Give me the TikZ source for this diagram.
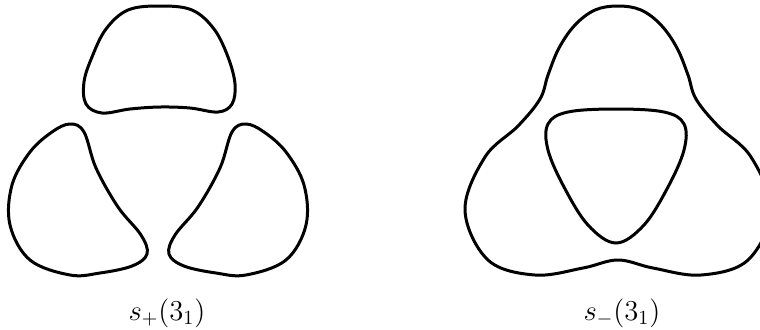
\documentclass[tikz,border=0pt]{standalone}
\begin{document}
\begin{tikzpicture}[x=0.5pt,y=-0.5pt,
  curve/.style={line width=1.5pt, line join=round},
  lbl/.style={anchor=base, inner sep=0pt, font=\fontsize{14.5}{16}\selectfont}]
\useasboundingbox (0,0) rectangle (760,329);
\clip (0,0) rectangle (760,329);
% ---------- left figure: s_+(3_1) ----------
% top blob
\draw[curve] plot[smooth cycle, tension=0.6] coordinates {
  (160,6) (192,10) (214,29) (228,57) (235,84) (232,104) (218,112)
  (190,108) (160,107) (130,109) (102,113) (86,104) (84,82) (92,57) (106,29) (128,10)};
% lower left blob
\def\lowerblob{plot[smooth cycle, tension=0.6] coordinates {
  (70,124) (84,132) (96,168) (118,207) (141,235) (147,254)
  (132,266) (100,273) (70,275) (30,260) (10,225) (12,185) (30,152) (52,132)}}
\draw[curve] \lowerblob;
% lower right blob (mirror)
\begin{scope}[shift={(316,0)}, xscale=-1]
  \draw[curve] \lowerblob;
\end{scope}
\node[lbl] (lp) at (167,320) {$s_+(3_1)$};
% ---------- right figure: s_-(3_1) ----------
\begin{scope}[shift={(618,0)}]
\draw[curve] plot[smooth cycle, tension=0.6] coordinates {
  (0,6) (-23,10) (-43,25) (-59,48) (-70,75) (-78,99) (-100,126) (-133,157)
  (-153,210) (-130,260) (-83,275) (-35,268) (0,260)
  (35,268) (83,275) (130,260) (153,210) (133,157) (100,126)
  (78,99) (70,75) (59,48) (43,25) (23,10)};
\end{scope}
\begin{scope}[shift={(616,0)}]
\draw[curve] plot[smooth cycle, tension=0.6] coordinates {
  (0,109) (48,112) (68,124) (68,150) (52,187) (28,225) (0,243)
  (-28,225) (-52,187) (-68,150) (-68,124) (-48,112)};
\end{scope}
\node[lbl] (rp) at (622,320) {$s_-(3_1)$};
\end{tikzpicture}
\end{document}
